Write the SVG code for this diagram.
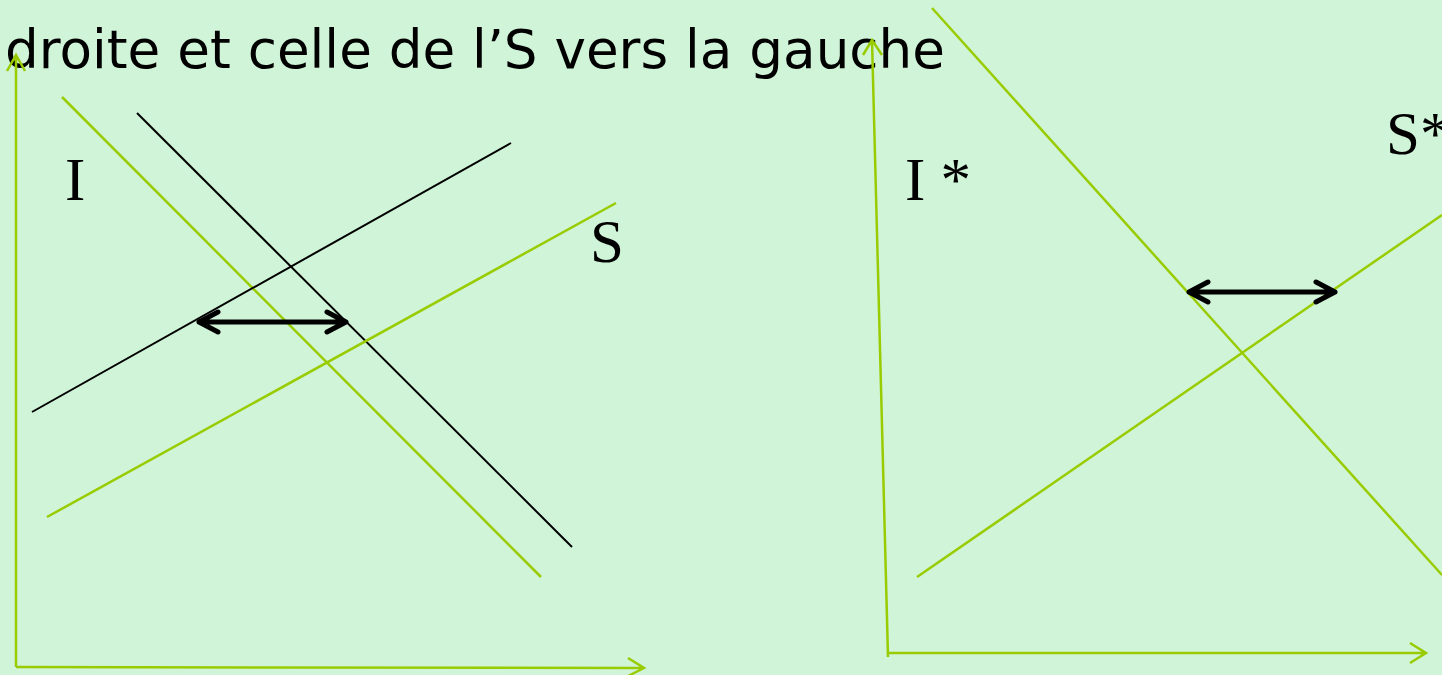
<svg xmlns="http://www.w3.org/2000/svg" width="1442" height="675" viewBox="0 0 1442 675">
<style>
.g{stroke:#99CC00;stroke-width:2.5;fill:none}
.k{stroke:#000;stroke-width:2;fill:none}
.dbl{stroke:#000;stroke-width:5;fill:none;stroke-linecap:round;stroke-linejoin:round}
.lbl{font-family:"Liberation Serif",serif;font-size:61px;fill:#000}
.title{font-family:"DejaVu Sans",sans-serif;font-size:53px;fill:#000}
</style>
<rect width="1442" height="675" fill="#D0F4D8"/>
<g id="title"><text class="title" x="5" y="68" textLength="940" lengthAdjust="spacingAndGlyphs">droite et celle de l’S vers la gauche</text></g>
<g id="connectors">
<path class="g" d="M16,667 L16,55 M7,71 L16,55 L25,71"/>
<path class="g" d="M16,667 L644,668 M628,658 L644,668 L628,676"/>
<path class="g" d="M888,657 L872,40 M863,55 L872,40 L882,55"/>
<path class="g" d="M888,653 L1426,653 M1410,643 L1426,653 L1410,663"/>
<line class="g" x1="62" y1="97" x2="541" y2="577"/>
<line class="k" x1="137" y1="113" x2="572" y2="547"/>
<line class="k" x1="32" y1="412" x2="511" y2="143"/>
<line class="g" x1="47" y1="517" x2="616" y2="203"/>
<line class="g" x1="932" y1="8" x2="1442" y2="575"/>
<line class="g" x1="917" y1="577" x2="1442" y2="215"/>
<path class="dbl" d="M199,322 L346,322 M218,312 L199,322 L218,332 M327,312 L346,322 L327,332"/>
<path class="dbl" d="M1189,292 L1335,292 M1208,282 L1189,292 L1208,302 M1316,282 L1335,292 L1316,302"/>
</g>
<g id="I"><text class="lbl" x="65" y="200">I</text></g>
<g id="S"><text class="lbl" x="590" y="262">S</text></g>
<g id="Istar"><text class="lbl" x="905" y="200">I *</text></g>
<g id="Sstar"><text class="lbl" x="1386" y="154">S*</text></g>
</svg>
